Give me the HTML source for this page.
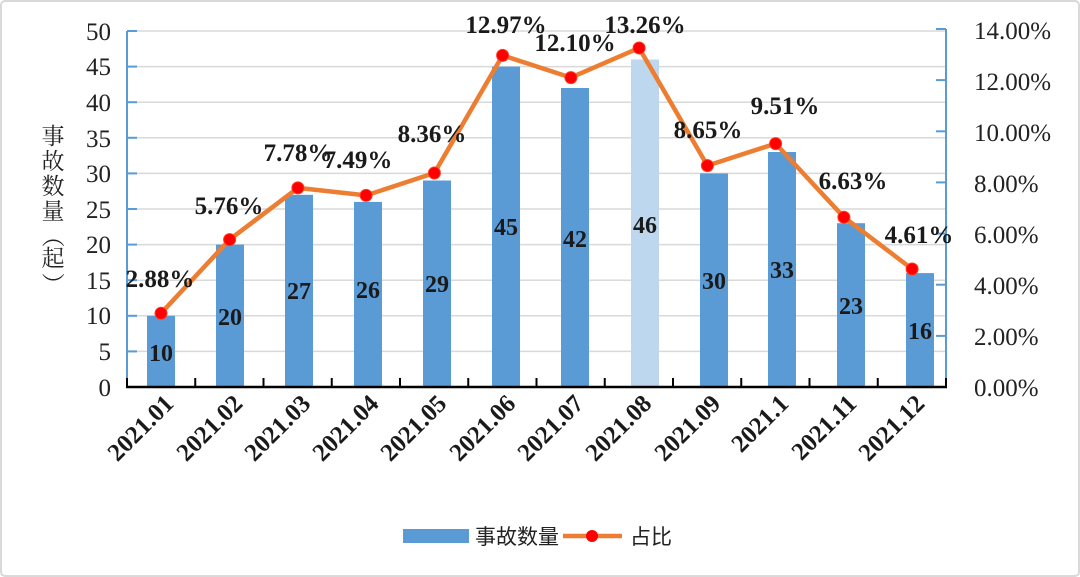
<!DOCTYPE html>
<html><head><meta charset="utf-8"><style>
html,body{margin:0;padding:0;background:#fff;}
svg{display:block;}
text{font-family:"Liberation Serif","Noto Serif CJK SC",serif;}
</style></head><body>
<svg width="1080" height="577" viewBox="0 0 1080 577" xmlns="http://www.w3.org/2000/svg">
<rect x="1" y="1" width="1078" height="575" fill="#fff" stroke="#d9d9d9" stroke-width="2" rx="4"/>
<g stroke="#d9d9d9" stroke-width="1.5">
<line x1="127" y1="31" x2="946" y2="31"/><line x1="127" y1="66.6" x2="946" y2="66.6"/>
<line x1="127" y1="102.2" x2="946" y2="102.2"/><line x1="127" y1="137.8" x2="946" y2="137.8"/>
<line x1="127" y1="173.4" x2="946" y2="173.4"/><line x1="127" y1="209" x2="946" y2="209"/>
<line x1="127" y1="244.6" x2="946" y2="244.6"/><line x1="127" y1="280.2" x2="946" y2="280.2"/>
<line x1="127" y1="315.8" x2="946" y2="315.8"/><line x1="127" y1="351.4" x2="946" y2="351.4"/>
</g>
<g fill="#5b9bd5">
<rect x="147" y="315.8" width="28" height="71.2"/>
<rect x="216" y="244.6" width="28" height="142.4"/>
<rect x="285" y="194.8" width="28" height="192.2"/>
<rect x="354" y="201.9" width="28" height="185.1"/>
<rect x="423" y="180.5" width="28" height="206.5"/>
<rect x="492" y="66.6" width="28" height="320.4"/>
<rect x="561" y="88" width="28" height="299"/>
<rect x="631" y="59.5" width="28" height="327.5" fill="#bdd7ee"/>
<rect x="700" y="173.4" width="28" height="213.6"/>
<rect x="768" y="152" width="28" height="235"/>
<rect x="837" y="223.2" width="28" height="163.8"/>
<rect x="906" y="273.1" width="28" height="113.9"/>
</g>
<line x1="127" y1="31" x2="127" y2="387" stroke="#5b9bd5" stroke-width="2"/>
<g stroke="#5b9bd5" stroke-width="2">
<line x1="127" y1="31" x2="137" y2="31"/><line x1="127" y1="66.6" x2="137" y2="66.6"/><line x1="127" y1="102.2" x2="137" y2="102.2"/><line x1="127" y1="137.8" x2="137" y2="137.8"/><line x1="127" y1="173.4" x2="137" y2="173.4"/><line x1="127" y1="209" x2="137" y2="209"/><line x1="127" y1="244.6" x2="137" y2="244.6"/><line x1="127" y1="280.2" x2="137" y2="280.2"/><line x1="127" y1="315.8" x2="137" y2="315.8"/><line x1="127" y1="351.4" x2="137" y2="351.4"/>
<line x1="946" y1="29" x2="946" y2="387"/>
<line x1="936" y1="29" x2="946" y2="29"/><line x1="936" y1="80.1" x2="946" y2="80.1"/><line x1="936" y1="131.3" x2="946" y2="131.3"/><line x1="936" y1="182.4" x2="946" y2="182.4"/><line x1="936" y1="233.6" x2="946" y2="233.6"/><line x1="936" y1="284.7" x2="946" y2="284.7"/><line x1="936" y1="335.9" x2="946" y2="335.9"/>
</g>
<line x1="126" y1="387" x2="947" y2="387" stroke="#000" stroke-width="2.5"/>
<g stroke="#000" stroke-width="2">
<line x1="127" y1="378" x2="127" y2="387"/><line x1="195.25" y1="378" x2="195.25" y2="387"/><line x1="263.5" y1="378" x2="263.5" y2="387"/><line x1="331.75" y1="378" x2="331.75" y2="387"/><line x1="400" y1="378" x2="400" y2="387"/><line x1="468.25" y1="378" x2="468.25" y2="387"/><line x1="536.5" y1="378" x2="536.5" y2="387"/><line x1="604.75" y1="378" x2="604.75" y2="387"/><line x1="673" y1="378" x2="673" y2="387"/><line x1="741.25" y1="378" x2="741.25" y2="387"/><line x1="809.5" y1="378" x2="809.5" y2="387"/><line x1="877.75" y1="378" x2="877.75" y2="387"/><line x1="946" y1="378" x2="946" y2="387"/>
</g>
<g font-size="25" fill="#222" text-anchor="end">
<text x="111" y="40">50</text><text x="111" y="75">45</text><text x="111" y="111">40</text><text x="111" y="147">35</text><text x="111" y="182">30</text><text x="111" y="218">25</text><text x="111" y="253">20</text><text x="111" y="289">15</text><text x="111" y="324">10</text><text x="111" y="360">5</text><text x="111" y="396">0</text>
</g>
<g font-size="25" fill="#222">
<text x="974" y="39">14.00%</text><text x="974" y="90">12.00%</text><text x="974" y="141">10.00%</text><text x="974" y="192">8.00%</text><text x="974" y="243">6.00%</text><text x="974" y="294">4.00%</text><text x="974" y="345">2.00%</text><text x="974" y="396">0.00%</text>
</g>
<g font-size="23" fill="#222" text-anchor="middle" style="font-family:'Noto Sans CJK SC',sans-serif">
<text x="53" y="144">事</text>
<text x="53" y="169">故</text>
<text x="53" y="194">数</text>
<text x="53" y="219">量</text>
<text x="53" y="244" transform="rotate(90 53 236)">（</text>
<text x="53" y="266">起</text>
<text x="53" y="292" transform="rotate(90 53 284)">）</text>
</g>
<g font-size="24" font-weight="bold" fill="#1a1a1a" text-anchor="middle">
<text x="161" y="361">10</text><text x="230" y="325">20</text><text x="299" y="299">27</text><text x="368" y="298">26</text><text x="437" y="292">29</text><text x="506" y="235">45</text><text x="575" y="247">42</text><text x="645" y="233">46</text><text x="714" y="289">30</text><text x="782" y="278">33</text><text x="851" y="314">23</text><text x="920" y="339">16</text>
</g>
<polyline fill="none" stroke="#ed7d31" stroke-width="4.5" stroke-linejoin="round" points="161,313.3 229.6,239.6 297.9,187.9 366.1,195.4 434.4,173 502.6,55.4 570.9,77.6 639.1,48 707.4,165.6 775.6,143.6 843.9,217.2 912.1,269"/>
<g fill="#ff0000" stroke="#ff3b1f" stroke-width="1">
<circle cx="161" cy="313.3" r="6"/><circle cx="229.6" cy="239.6" r="6"/><circle cx="297.9" cy="187.9" r="6"/><circle cx="366.1" cy="195.4" r="6"/><circle cx="434.4" cy="173" r="6"/><circle cx="502.6" cy="55.4" r="6"/><circle cx="570.9" cy="77.6" r="6"/><circle cx="639.1" cy="48" r="6"/><circle cx="707.4" cy="165.6" r="6"/><circle cx="775.6" cy="143.6" r="6"/><circle cx="843.9" cy="217.2" r="6"/><circle cx="912.1" cy="269" r="6"/>
</g>
<g font-size="25" font-weight="bold" fill="#1a1a1a" text-anchor="middle">
<text x="160" y="287">2.88%</text><text x="229" y="214">5.76%</text><text x="298" y="161">7.78%</text><text x="358" y="168">7.49%</text><text x="432" y="142">8.36%</text><text x="506" y="33">12.97%</text><text x="575" y="51">12.10%</text><text x="645" y="33">13.26%</text><text x="708" y="138">8.65%</text><text x="785" y="114">9.51%</text><text x="853" y="189">6.63%</text><text x="919" y="243">4.61%</text>
</g>
<g font-size="25" font-weight="bold" fill="#1a1a1a" text-anchor="end">
<text transform="translate(175,405) rotate(-45)">2021.01</text>
<text transform="translate(244,405) rotate(-45)">2021.02</text>
<text transform="translate(312,405) rotate(-45)">2021.03</text>
<text transform="translate(380,405) rotate(-45)">2021.04</text>
<text transform="translate(448,405) rotate(-45)">2021.05</text>
<text transform="translate(517,405) rotate(-45)">2021.06</text>
<text transform="translate(585,405) rotate(-45)">2021.07</text>
<text transform="translate(653,405) rotate(-45)">2021.08</text>
<text transform="translate(722,405) rotate(-45)">2021.09</text>
<text transform="translate(790,405) rotate(-45)">2021.1</text>
<text transform="translate(858,405) rotate(-45)">2021.11</text>
<text transform="translate(926,405) rotate(-45)">2021.12</text>
</g>
<rect x="403" y="529" width="66" height="14" fill="#5b9bd5"/>
<text x="475" y="544" font-size="21" fill="#222" style="font-family:'Noto Sans CJK SC',sans-serif">事故数量</text>
<line x1="563" y1="536" x2="622" y2="536" stroke="#ed7d31" stroke-width="4.5"/>
<circle cx="592" cy="536" r="6" fill="#ff0000"/>
<text x="630" y="544" font-size="21" fill="#222" style="font-family:'Noto Sans CJK SC',sans-serif">占比</text>
</svg>
</body></html>
